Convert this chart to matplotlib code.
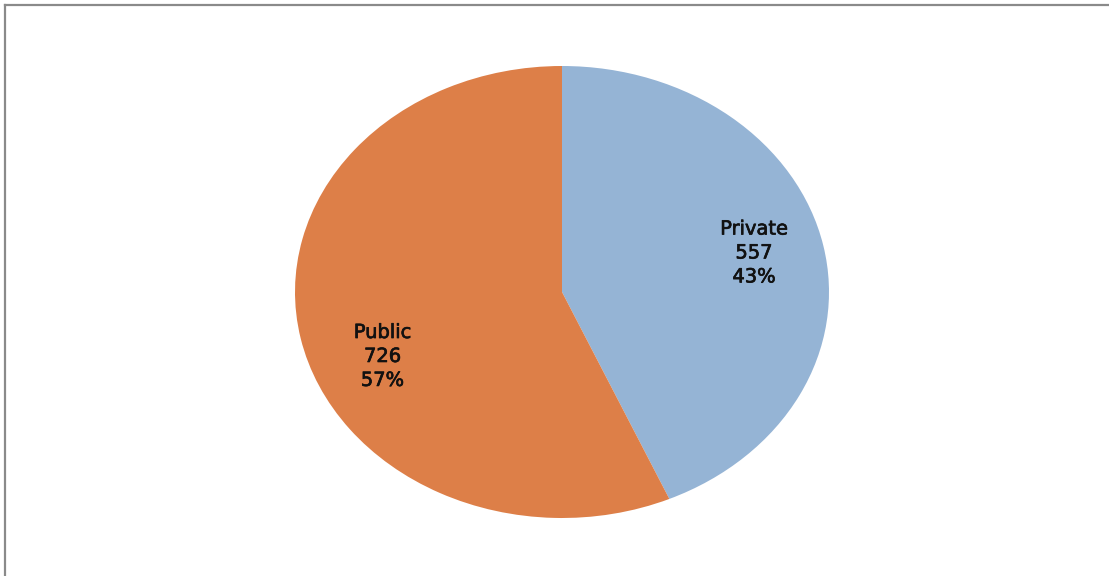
import numpy as np
import matplotlib
matplotlib.use("Agg")
import matplotlib.pyplot as plt
import matplotlib.patheffects as pe
from matplotlib.lines import Line2D

categories = ["Private", "Public"]
counts = [557, 726]
colors = ["#95B4D5", "#DD7F48"]

W, H, DPI = 1109, 576, 100
fig = plt.figure(figsize=(W / DPI, H / DPI), dpi=DPI)
fig.patch.set_facecolor("white")

# Axes box sized to the (slightly squashed) pie ellipse, in pixel terms
cx, cy, rx, ry = 562, 292, 267, 226
ax = fig.add_axes([(cx - rx) / W, (H - cy - ry) / H, 2 * rx / W, 2 * ry / H])

wedges, _ = ax.pie(counts, colors=colors, startangle=90, counterclock=False,
                   radius=1.0, wedgeprops=dict(linewidth=0))
ax.set_aspect("auto")
ax.set_xlim(-1, 1)
ax.set_ylim(-1, 1)
ax.axis("off")

# Data labels: category, value and share, placed inside each slice
total = sum(counts)
label_pos = {"Private": (13.5, 0.74), "Public": (-157.0, 0.73)}
for name, val in zip(categories, counts):
    ang, r = label_pos[name]
    x = r * np.cos(np.radians(ang))
    y = r * np.sin(np.radians(ang))
    ax.text(x, y, f"{name}\n{val}\n{round(100 * val / total)}%",
            ha="center", va="center", fontsize=14, color="#111111",
            family="DejaVu Sans", linespacing=1.33,
            path_effects=[pe.withStroke(linewidth=0.5, foreground="#111111")])

# Chart-area frame (top and left edges)
frame_kw = dict(color="#8a8a8a", linewidth=1.6, transform=fig.transFigure)
fig.add_artist(Line2D([4.5 / W, 1.0], [1 - 5 / H, 1 - 5 / H], **frame_kw))
fig.add_artist(Line2D([5 / W, 5 / W], [0.0, 1 - 4.5 / H], **frame_kw))

fig.savefig("out.png", dpi=DPI, facecolor="white")
